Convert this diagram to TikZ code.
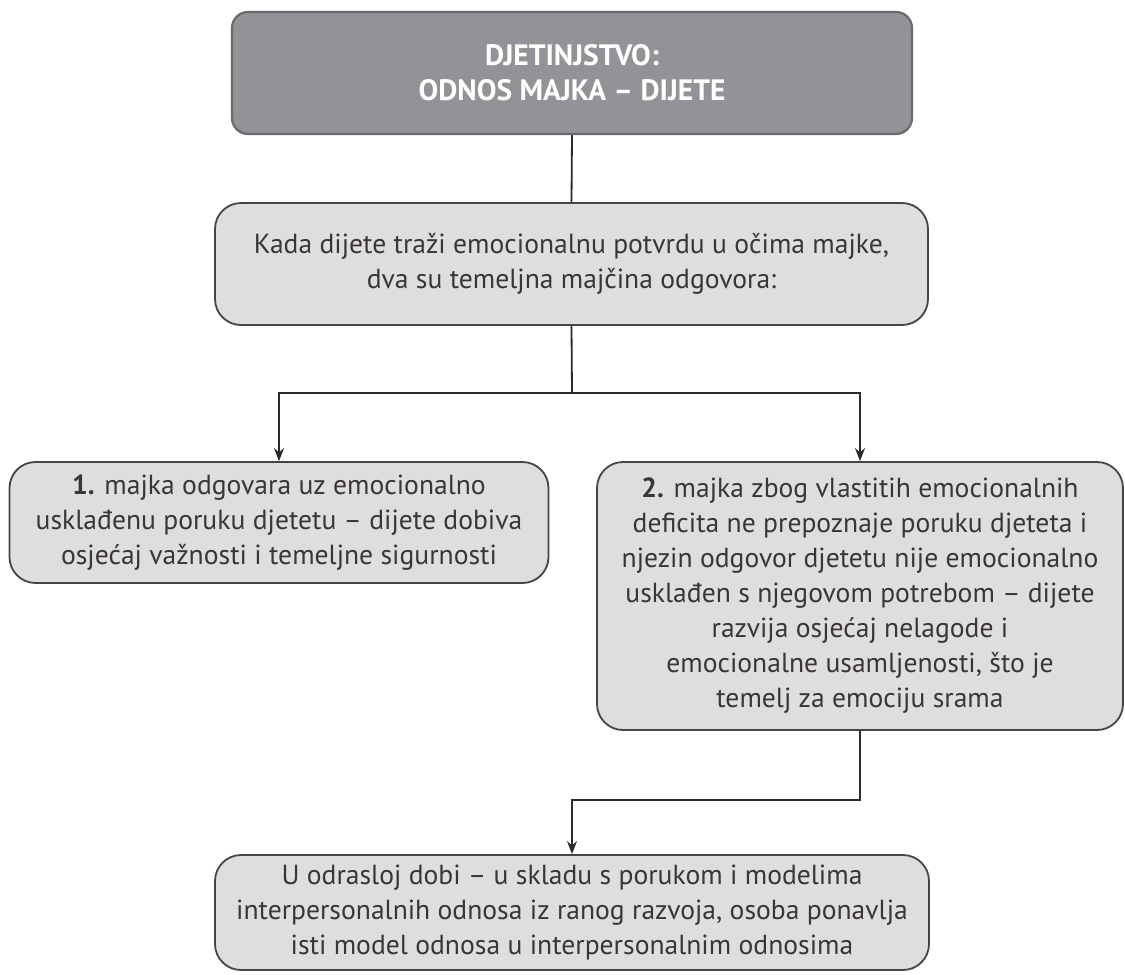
\documentclass[tikz,border=0pt]{standalone}
\usepackage{fontspec}
\setmainfont{PT Sans}
\usetikzlibrary{arrows.meta}
\definecolor{topfill}{HTML}{939397}
\definecolor{topdraw}{HTML}{6A6A6E}
\definecolor{boxfill}{HTML}{DEDEE0}
\definecolor{boxdraw}{HTML}{454545}
\definecolor{txt}{HTML}{3B3535}
\definecolor{conn}{HTML}{2A2A2A}
\tikzset{
  base/.style={rectangle, align=center, inner sep=0pt, font=\fontsize{27.6}{35}\selectfont},
  headbox/.style={base, rounded corners=16pt, fill=topfill, draw=topdraw, line width=2.2pt, text=white, font=\bfseries\fontsize{29.5}{35}\selectfont},
  infobox/.style={base, rounded corners=26pt, fill=boxfill, draw=boxdraw, line width=1.8pt, text=txt},
  link/.style={draw=conn, line width=1.8pt},
  arrowlink/.style={link, -{Stealth[length=13pt,width=10pt]}}
}
\begin{document}
\begin{tikzpicture}[x=1pt,y=-1pt]
\useasboundingbox[fill=white] (0,0) rectangle (1125,975);
\node[headbox, minimum width=680pt, minimum height=122pt] (top) at (572,73)
  {DJETINJSTVO:\\ODNOS MAJKA – DIJETE};
\node[infobox, minimum width=713pt, minimum height=122pt] (q) at (571.5,264)
  {Kada dijete traži emocionalnu potvrdu u očima majke,\\dva su temeljna majčina odgovora:};
\node[infobox, minimum width=539pt, minimum height=121pt] (a1) at (279,522.5)
  {\textbf{1.} majka odgovara uz emocionalno\\usklađenu poruku djetetu – dijete dobiva\\osjećaj važnosti i temeljne sigurnosti};
\node[infobox, minimum width=526pt, minimum height=268pt] (a2) at (860,596)
  {\textbf{2.} majka zbog vlastitih emocionalnih\\deficita ne prepoznaje poruku djeteta i\\njezin odgovor djetetu nije emocionalno\\usklađen s njegovom potrebom – dijete\\razvija osjećaj nelagode i\\emocionalne usamljenosti, što je\\temelj za emociju srama};
\node[infobox, minimum width=714pt, minimum height=115pt] (b) at (572,912.5)
  {U odrasloj dobi – u skladu s porukom i modelima\\interpersonalnih odnosa iz ranog razvoja, osoba ponavlja\\isti model odnosa u interpersonalnim odnosima};
\coordinate (split) at (572,393);
\coordinate (join) at (860,800);
\draw[link] (top.south) -- (q.north);
\draw[link] (q.south) -- (split);
\draw[arrowlink] (split) -| (a1.north);
\draw[arrowlink] (split) -| (a2.north);
\draw[arrowlink] (a2.south) -- (join) -| (b.north);
\end{tikzpicture}
\end{document}
